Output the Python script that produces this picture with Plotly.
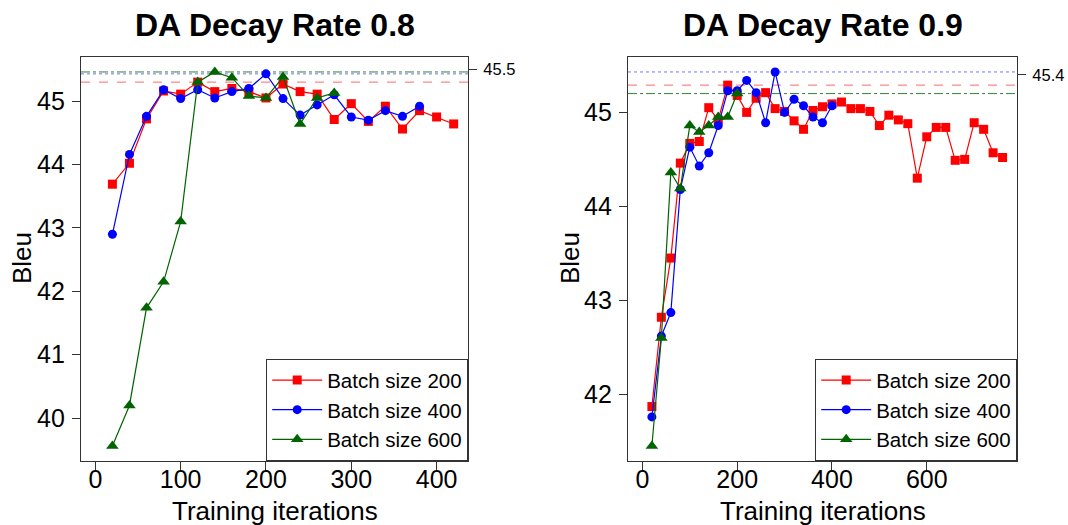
import plotly.graph_objects as go

# ---- data -------------------------------------------------------------
# DA decay rate 0.8
iters_08_b200 = list(range(20, 421, 20))
bleu_08_b200 = [43.69, 44.02, 44.72, 45.16, 45.11, 45.30, 45.15, 45.20, 45.15, 45.05,
                45.27, 45.15, 45.11, 44.71, 44.96, 44.68, 44.92, 44.56, 44.85, 44.75, 44.64]
iters_08_b400 = list(range(20, 381, 20))
bleu_08_b400 = [42.90, 44.16, 44.76, 45.18, 45.04, 45.18, 45.05, 45.15, 45.20, 45.43,
                45.04, 44.78, 44.94, 45.10, 44.75, 44.70, 44.85, 44.76, 44.92]
iters_08_b600 = list(range(20, 281, 20))
bleu_08_b600 = [39.56, 40.20, 41.74, 42.15, 43.10, 45.30, 45.46, 45.37, 45.08, 45.05,
                45.38, 44.64, 45.05, 45.13]

# DA decay rate 0.9
iters_09_b200 = list(range(20, 761, 20))
bleu_09_b200 = [41.87, 42.82, 43.45, 44.46, 44.67, 44.69, 45.05, 44.92, 45.29, 45.18,
                45.00, 45.15, 45.21, 45.04, 45.01, 44.91, 44.82, 45.02, 45.06, 45.09,
                45.11, 45.04, 45.04, 45.01, 44.86, 44.97, 44.92, 44.88, 44.30, 44.74,
                44.84, 44.84, 44.49, 44.50, 44.89, 44.82, 44.57, 44.52]
iters_09_b400 = list(range(20, 401, 20))
bleu_09_b400 = [41.76, 42.62, 42.87, 44.18, 44.63, 44.43, 44.57, 44.86, 45.23, 45.23,
                45.34, 45.21, 44.89, 45.43, 45.00, 45.14, 45.07, 44.95, 44.89, 45.07]
iters_09_b600 = list(range(20, 201, 20))
bleu_09_b600 = [41.45, 42.60, 44.36, 44.19, 44.86, 44.79, 44.86, 44.95, 44.95, 45.20]

series_names = ["Batch size 200", "Batch size 400", "Batch size 600"]
panel_titles = ["DA Decay Rate 0.8", "DA Decay Rate 0.9"]
best_tick_vals = [45.5, 45.4]
best_tick_text = ["45.5", "45.4"]
x_ticks = [[0, 100, 200, 300, 400], [0, 200, 400, 600]]
y_ticks = [[40, 41, 42, 43, 44, 45], [42, 43, 44, 45]]

# ---- styling ----------------------------------------------------------
FONT = "Liberation Sans, Arial, sans-serif"
colors = ["#FF0000", "#0000FF", "#006400"]
symbols = ["square", "circle", "triangle-up"]
msizes = [9, 9, 11]
hline_colors = ["rgba(255,0,0,0.6)", "rgba(0,0,255,0.55)", "rgba(0,100,0,0.8)"]
hline_dash = ["dash", "dot", "dashdot"]

panels = [
    dict(xs=[iters_08_b200, iters_08_b400, iters_08_b600],
         ys=[bleu_08_b200, bleu_08_b400, bleu_08_b600]),
    dict(xs=[iters_09_b200, iters_09_b400, iters_09_b600],
         ys=[bleu_09_b200, bleu_09_b400, bleu_09_b600]),
]

W, H = 1068, 525
x_domains = [[81 / W, 468 / W], [628 / W, 1017 / W]]
y_domain = [64 / H, 468 / H]


def padded(lo, hi):
    d = (hi - lo) * 0.04
    return [lo - d, hi + d]


x_ranges = [padded(0, 420), padded(0, 760)]
y_ranges = [padded(min(min(v) for v in panels[p]["ys"]),
                   max(max(v) for v in panels[p]["ys"])) for p in range(2)]

fig = go.Figure()

for p, panel in enumerate(panels):
    xa = "x" if p == 0 else "x2"
    ya = "y" if p == 0 else "y2"
    legend_id = "legend" if p == 0 else "legend2"
    for s in range(3):
        fig.add_trace(go.Scatter(
            x=panel["xs"][s], y=panel["ys"][s],
            mode="lines+markers", name=series_names[s],
            line=dict(color=colors[s], width=1.2),
            marker=dict(symbol=symbols[s], size=msizes[s], color=colors[s],
                        line=dict(width=0)),
            xaxis=xa, yaxis=ya, legend=legend_id,
        ))
    # best score reference lines, one per batch size
    for s in range(3):
        best = max(panel["ys"][s])
        fig.add_shape(type="line", xref=f"{xa} domain", yref=ya,
                      x0=0, x1=1, y0=best, y1=best,
                      line=dict(color=hline_colors[s], dash=hline_dash[s], width=1),
                      layer="below")
    # hidden anchor so the right-hand axis gets drawn
    fig.add_trace(go.Scatter(
        x=[x_ranges[p][1]], y=[best_tick_vals[p]], mode="markers",
        marker=dict(opacity=0), showlegend=False, hoverinfo="skip",
        xaxis=xa, yaxis="y" + str(p + 3)))

axis_common = dict(showline=True, mirror=True, linecolor="#333333", linewidth=1.2,
                   ticks="outside", ticklen=8, tickwidth=1.2, tickcolor="#333333",
                   showgrid=False, zeroline=False,
                   tickfont=dict(family=FONT, size=25, color="#000000"))

layout = dict(
    width=W, height=H,
    margin=dict(l=0, r=0, t=0, b=0),
    paper_bgcolor="white", plot_bgcolor="white",
    font=dict(family=FONT, color="#000000"),
    showlegend=True,
)
for p in range(2):
    sfx = "" if p == 0 else "2"
    layout["xaxis" + sfx] = dict(axis_common, domain=x_domains[p], range=x_ranges[p],
                                 tickvals=x_ticks[p], anchor="y" + sfx,
                                 ticklabelstandoff=-12)
    layout["yaxis" + sfx] = dict(axis_common, domain=y_domain, range=y_ranges[p],
                                 tickvals=y_ticks[p], anchor="x" + sfx,
                                 ticklabelstandoff=2)
    # right-hand axis marking the best score
    layout["yaxis" + str(p + 3)] = dict(
        overlaying="y" + sfx, anchor="x" + sfx, side="right", range=y_ranges[p],
        tickvals=[best_tick_vals[p]], ticktext=[best_tick_text[p]],
        ticks="outside", ticklen=8, tickwidth=1, tickcolor="#333333",
        showline=False, showgrid=False, zeroline=False,
        tickfont=dict(family=FONT, size=16.5, color="#000000"), ticklabelstandoff=3)

legend_common = dict(bgcolor="white", bordercolor="#333333", borderwidth=1.2,
                     font=dict(family=FONT, size=20.5, color="#000000"),
                     xanchor="right", yanchor="bottom", y=y_domain[0],
                     itemwidth=50, tracegroupgap=0)
layout["legend"] = dict(legend_common, x=x_domains[0][1])
layout["legend2"] = dict(legend_common, x=x_domains[1][1])

annotations = []
for p in range(2):
    cx = (x_domains[p][0] + x_domains[p][1]) / 2
    annotations.append(dict(text=f"<b>{panel_titles[p]}</b>", xref="paper", yref="paper",
                            x=cx, y=1 - 25 / H, xanchor="center", yanchor="middle",
                            showarrow=False, font=dict(family=FONT, size=32)))
    annotations.append(dict(text="Training iterations", xref="paper", yref="paper",
                            x=cx, y=1 - 511 / H, xanchor="center", yanchor="middle",
                            showarrow=False, font=dict(family=FONT, size=26)))
    annotations.append(dict(text="Bleu", xref="paper", yref="paper",
                            x=(22 if p == 0 else 570) / W, y=1 - 258 / H,
                            xanchor="center", yanchor="middle", textangle=-90,
                            showarrow=False, font=dict(family=FONT, size=26)))
layout["annotations"] = annotations

fig.update_layout(**layout)
fig.write_html("out.html")
